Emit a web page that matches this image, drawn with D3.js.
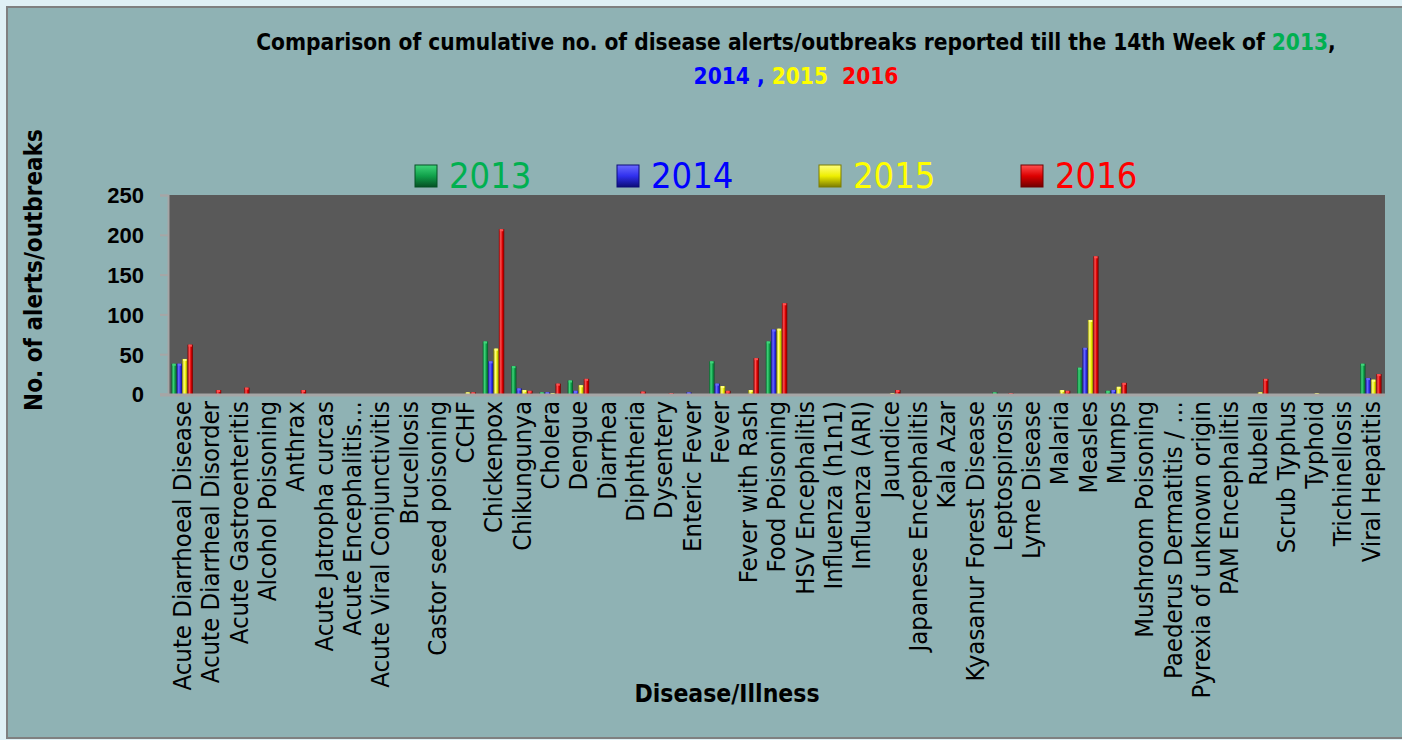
<!DOCTYPE html>
<html>
<head>
<meta charset="utf-8">
<script src="https://cdn.jsdelivr.net/npm/d3@7"></script>
<style>
	body { margin: 0; background: #dff0f5; }
	text { font-family: "Liberation Sans Narrow", "Arial Narrow", "DejaVu Sans Condensed", sans-serif; }
</style>
</head>
<body>
<div id="canvas"></div>
<script>
var width = 1402,
	height = 740;

var categories = ["Acute Diarrhoeal Disease", "Acute Diarrheal Disorder", "Acute Gastroenteritis",
	"Alcohol Poisoning", "Anthrax", "Acute Jatropha curcas", "Acute Encephalitis\u2026",
	"Acute Viral Conjunctivitis", "Brucellosis", "Castor seed poisoning", "CCHF", "Chickenpox",
	"Chikungunya", "Cholera", "Dengue", "Diarrhea", "Diphtheria", "Dysentery", "Enteric Fever",
	"Fever", "Fever with Rash", "Food Poisoning", "HSV Encephalitis", "Influenza (h1n1)",
	"Influenza (ARI)", "Jaundice", "Japanese Encephalitis", "Kala Azar", "Kyasanur Forest Disease",
	"Leptospirosis", "Lyme Disease", "Malaria", "Measles", "Mumps", "Mushroom Poisoning",
	"Paederus Dermatitis / \u2026", "Pyrexia of unknown origin", "PAM Encephalitis", "Rubella",
	"Scrub Typhus", "Typhoid", "Trichinellosis", "Viral Hepatitis"];

var years = ["2013", "2014", "2015", "2016"];

var v2013 = [38,0,0,0,0,0,0,0,0,0,0,66,35,2,17,0,0,0,0,41,0,66,0,0,0,0,0,0,0,2,0,0,33,4,0,0,0,0,0,0,0,0,38];
var v2014 = [38,0,0,0,0,0,0,0,0,0,0,41,7,2,4,0,0,0,2,13,0,81,0,0,0,0,0,0,0,0,0,0,58,5,0,0,0,0,0,0,0,0,20];
var v2015 = [44,0,0,0,0,0,0,0,0,0,2,57,5,1,11,0,0,0,0,10,5,82,0,0,0,1,0,0,0,0,0,5,93,9,0,0,0,0,2,0,1,0,18];
var v2016 = [62,5,8,0,5,0,0,0,0,0,2,207,4,13,19,0,3,1,0,4,45,114,0,0,0,5,0,0,0,1,0,4,173,14,0,0,0,0,19,0,0,0,25];

var yTicks = [0, 50, 100, 150, 200, 250];

var series = [v2013, v2014, v2015, v2016];
var colors = ["#00b050", "#0000ff", "#ffff00", "#ff0000"];
// left edge, highlight, body, right edge of each cylinder
var shades = [
	["#06602a", "#3fd57a", "#10a04a", "#055024"],
	["#10108a", "#6a6aff", "#3030ee", "#0c0c78"],
	["#8c8c00", "#ffff80", "#eeee00", "#7c7c00"],
	["#840000", "#ff5050", "#dd0000", "#700000"]
];

var plot = {left: 168, right: 1385, top: 195, bottom: 394};

var svg = d3.select("#canvas").append("svg")
	.attr("width", width)
	.attr("height", height)

var defs = svg.append("defs");
shades.forEach(function(s, i){
	var g = defs.append("linearGradient")
		.attr("id", "bar" + i)
		.attr("x1", 0).attr("x2", 1).attr("y1", 0).attr("y2", 0);
	g.append("stop").attr("offset", "0%").attr("stop-color", s[0]);
	g.append("stop").attr("offset", "35%").attr("stop-color", s[1]);
	g.append("stop").attr("offset", "65%").attr("stop-color", s[2]);
	g.append("stop").attr("offset", "100%").attr("stop-color", s[3]);

	var l = defs.append("linearGradient")
		.attr("id", "leg" + i)
		.attr("x1", 0).attr("x2", 0).attr("y1", 0).attr("y2", 1);
	l.append("stop").attr("offset", "0%").attr("stop-color", s[1]);
	l.append("stop").attr("offset", "50%").attr("stop-color", s[2]);
	l.append("stop").attr("offset", "100%").attr("stop-color", s[3]);
});

// chart frame
svg.append("rect")
	.attr("x", 7)
	.attr("y", 7)
	.attr("width", width)
	.attr("height", 731)
	.attr("fill", "#8fb2b4")
	.attr("stroke", "#7f8080")
	.attr("stroke-width", 2)

// title
var title = svg.append("text")
	.attr("x", 796)
	.attr("y", 50)
	.attr("text-anchor", "middle")
	.style("font-size", "22.5px")
	.style("font-weight", "bold")
title.append("tspan").attr("fill", "#000").text("Comparison of cumulative no. of disease alerts/outbreaks reported till the 14th Week of ");
title.append("tspan").attr("fill", colors[0]).text("2013");
title.append("tspan").attr("fill", "#000").text(",");

var title2 = svg.append("text")
	.attr("x", 796)
	.attr("y", 84)
	.attr("text-anchor", "middle")
	.style("font-size", "22.5px")
	.style("font-weight", "bold")
	.attr("xml:space", "preserve")
title2.append("tspan").attr("fill", colors[1]).text("2014 , ");
title2.append("tspan").attr("fill", colors[2]).text("2015  ");
title2.append("tspan").attr("fill", colors[3]).text("2016");

// legend
var legend = svg.selectAll(".legend")
	.data(years)
	.enter()
	.append("g")
	.classed("legend", true)
	.attr("transform", function(d, i){
		return "translate(" + (415 + i * 202) + ",165)"
	})

legend.append("rect")
	.attr("width", 22)
	.attr("height", 22)
	.attr("fill", function(d, i){ return "url(#leg" + i + ")"; })
	.attr("stroke", function(d, i){ return shades[i][3]; })
	.attr("stroke-width", 1)

legend.append("text")
	.attr("x", 34)
	.attr("y", 23)
	.attr("fill", function(d, i){ return colors[i]; })
	.style("font-size", "36px")
	.text(function(d){ return d; })

// plot area
svg.append("rect")
	.attr("x", plot.left)
	.attr("y", plot.top)
	.attr("width", plot.right - plot.left)
	.attr("height", plot.bottom - plot.top)
	.attr("fill", "#595959")

var x = d3.scaleBand()
	.domain(categories)
	.range([plot.left, plot.right])
	.paddingInner(0.24)
	.paddingOuter(0.12)

var xSub = d3.scaleBand()
	.domain(d3.range(years.length))
	.range([0, x.bandwidth()])

var y = d3.scaleLinear()
	.domain([0, 250])
	.range([plot.bottom, plot.top])

// y axis
var yAxis = svg.append("g")
	.attr("transform", "translate(" + plot.left + ",0)")
	.call(d3.axisLeft(y).tickValues(yTicks).tickSize(8).tickPadding(16))

yAxis.select(".domain").attr("stroke", "#a6a6a6").attr("stroke-width", 2)
yAxis.selectAll(".tick line").attr("stroke", "#a6a6a6").attr("stroke-width", 2)
yAxis.selectAll(".tick text")
	.attr("fill", "#000")
	.style("font-family", "'Liberation Sans', Arial, sans-serif")
	.style("font-size", "22px")
	.style("font-weight", "bold")
	.attr("dy", "0.36em")

// bars
var groups = svg.selectAll(".group")
	.data(categories)
	.enter()
	.append("g")
	.classed("group", true)
	.attr("transform", function(d){
		return "translate(" + x(d) + ",0)"
	})

series.forEach(function(values, s){
	groups.filter(function(d, i){ return values[i] > 0; })
		.append("rect")
		.attr("x", xSub(s))
		.attr("width", xSub.bandwidth())
		.attr("y", function(d){ return y(values[categories.indexOf(d)]); })
		.attr("height", function(d){ return plot.bottom - y(values[categories.indexOf(d)]); })
		.attr("fill", "url(#bar" + s + ")")

	// light cap on top of each cylinder
	groups.filter(function(d, i){ return values[i] > 0; })
		.append("rect")
		.attr("x", xSub(s) + 1)
		.attr("width", xSub.bandwidth() - 2)
		.attr("y", function(d){ return y(values[categories.indexOf(d)]); })
		.attr("height", 2)
		.attr("fill", shades[s][1])
})

// x axis
var xAxis = svg.append("g")
	.attr("transform", "translate(0," + plot.bottom + ")")
	.call(d3.axisBottom(x).tickSize(0).tickPadding(0))

xAxis.select(".domain").remove()
svg.append("line")
	.attr("x1", 160)
	.attr("x2", plot.right)
	.attr("y1", plot.bottom + 1)
	.attr("y2", plot.bottom + 1)
	.attr("stroke", "#a6a6a6")
	.attr("stroke-width", 3)

xAxis.selectAll(".tick text")
	.attr("fill", "#000")
	.style("font-size", "25.5px")
	.attr("text-anchor", "end")
	.attr("transform", "rotate(-90)")
	.attr("x", -7)
	.attr("y", 0)
	.attr("dy", "0.35em")

// axis titles
svg.append("text")
	.attr("transform", "translate(42,270) rotate(-90)")
	.attr("text-anchor", "middle")
	.style("font-size", "24px")
	.style("font-weight", "bold")
	.text("No. of alerts/outbreaks")

svg.append("text")
	.attr("x", 727)
	.attr("y", 702)
	.attr("text-anchor", "middle")
	.style("font-size", "24.5px")
	.style("font-weight", "bold")
	.text("Disease/Illness")
</script>
</body>
</html>
